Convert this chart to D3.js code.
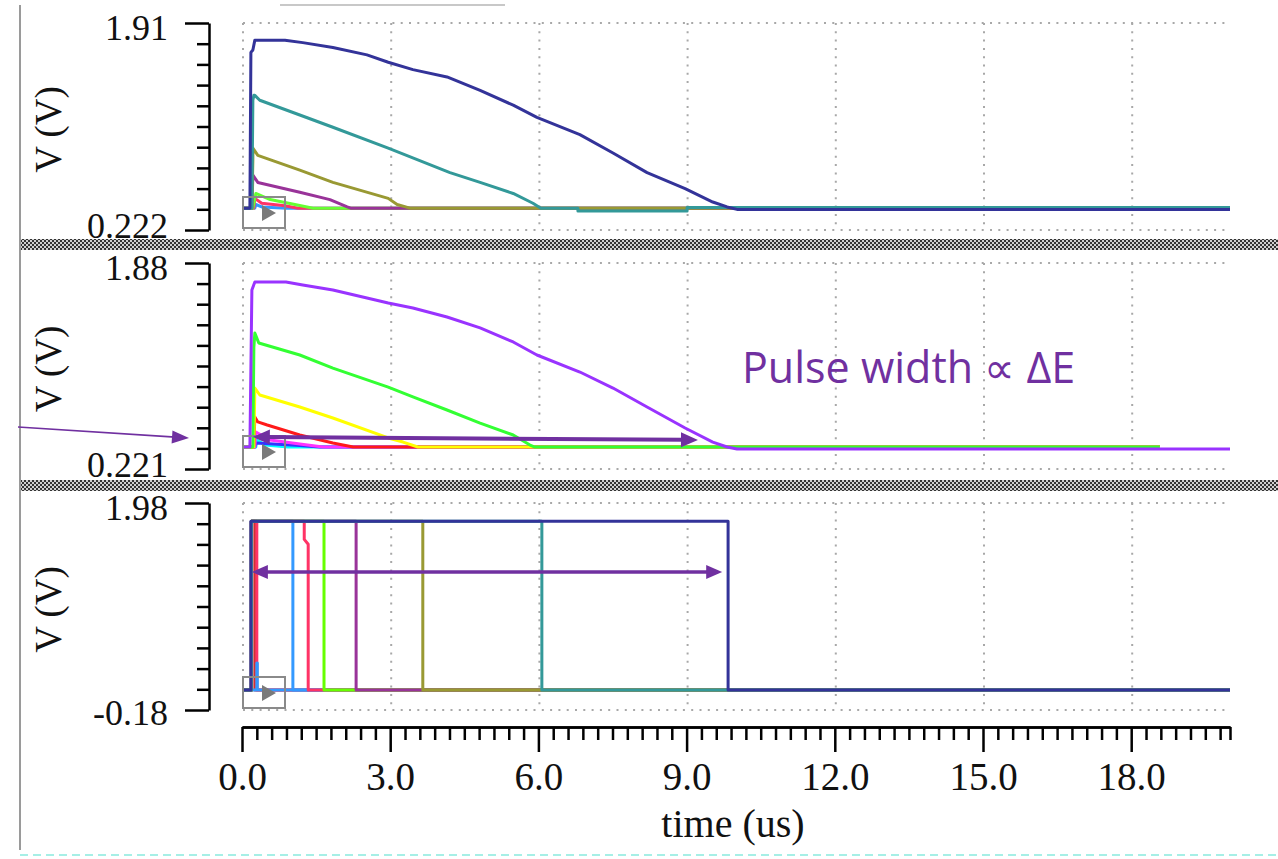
<!DOCTYPE html>
<html>
<head>
<meta charset="utf-8">
<script src="https://cdn.jsdelivr.net/npm/d3@7"></script>
<style>
body { margin: 0; background: #fff; }
svg { display: block; }
.axis path, .axis line { stroke: #000; stroke-width: 2.5; }
.axis text { font-family: "Liberation Serif", serif; font-size: 36px; fill: #111; }
.xaxis text { font-size: 39px; }
.ylab, .xlab { font-family: "Liberation Serif", serif; font-size: 37px; fill: #111; }
.xlab { font-size: 40px; }
</style>
</head>
<body>
<svg id="chart" width="1278" height="859"></svg>
<script>
// time (us), voltage (V) pairs

// top panel
const yDomainTop = [0.222, 1.91]
const yLabelsTop = ['0.222', '1.91']
const topBlue = [[0,0.40],[0.26,0.40],[0.28,0.43],[0.40,0.41],[0.90,0.40],[20,0.40]]
const topPink = [[0,0.40],[0.24,0.40],[0.26,0.48],[0.40,0.44],[0.87,0.42],[1.13,0.40],[20,0.40]]
const topLime = [[0,0.40],[0.22,0.40],[0.28,0.52],[0.57,0.47],[1.07,0.43],[1.44,0.40],[20,0.40]]
const topPurple = [[0,0.40],[0.20,0.40],[0.22,0.67],[0.32,0.61],[1.17,0.53],[1.78,0.47],[2.13,0.41],[2.20,0.40],[20,0.40]]
const topOlive = [[0,0.40],[0.20,0.40],[0.22,0.80],[0.22,0.89],[0.32,0.83],[1.17,0.71],[1.84,0.61],[2.96,0.48],[3.14,0.43],[3.40,0.40],[20,0.40]]
const topTeal = [[0,0.40],[0.20,0.40],[0.22,1.28],[0.24,1.32],[0.26,1.32],[0.36,1.28],[1.17,1.16],[1.84,1.06],[2.96,0.89],[4.21,0.69],[4.82,0.61],[5.49,0.52],[5.89,0.44],[5.97,0.42],[6.05,0.40],[6.80,0.40],[6.80,0.377],[9.01,0.377],[9.01,0.405],[20,0.405]]
const topNavy = [[0,0.40],[0.16,0.40],[0.18,1.67],[0.22,1.69],[0.26,1.77],[0.87,1.77],[1.23,1.75],[1.84,1.71],[2.53,1.65],[2.96,1.59],[3.46,1.53],[4.15,1.47],[4.82,1.36],[5.49,1.24],[5.97,1.14],[6.84,1.00],[7.51,0.85],[8.20,0.69],[8.97,0.56],[9.53,0.45],[9.82,0.41],[10.02,0.39],[20,0.39]]

// middle panel
const yDomainMid = [0.221, 1.88]
const yLabelsMid = ['0.221', '1.88']
const midCyan = [[0,0.398],[0.28,0.398],[0.30,0.455],[0.47,0.414],[0.93,0.398],[18.58,0.398]]
const midBlue = [[0,0.398],[0.26,0.398],[0.28,0.43],[1.17,0.41],[1.58,0.398],[18.58,0.398]]
const midMagenta = [[0,0.398],[0.26,0.398],[0.28,0.519],[0.57,0.455],[1.17,0.422],[1.64,0.398],[18.58,0.398]]
const midRed = [[0,0.398],[0.24,0.398],[0.26,0.640],[0.32,0.600],[0.51,0.575],[1.17,0.495],[1.84,0.430],[2.25,0.398],[18.58,0.398]]
const midYellow = [[0,0.398],[0.24,0.398],[0.26,0.873],[0.36,0.817],[1.17,0.720],[1.84,0.632],[2.96,0.471],[3.26,0.438],[3.56,0.398],[18.58,0.398]]
const midGreen = [[0,0.398],[0.22,0.398],[0.24,1.20],[0.26,1.316],[0.34,1.236],[1.17,1.139],[1.84,1.034],[2.96,0.881],[3.46,0.801],[4.15,0.696],[4.82,0.591],[5.49,0.495],[5.83,0.414],[5.93,0.398],[18.58,0.398]]
const midViolet = [[0,0.398],[0.16,0.398],[0.20,1.663],[0.26,1.727],[0.89,1.727],[1.23,1.703],[1.84,1.663],[2.53,1.598],[2.96,1.558],[3.46,1.518],[4.15,1.445],[4.82,1.357],[5.49,1.244],[5.97,1.139],[6.84,1.002],[7.51,0.873],[8.20,0.720],[8.97,0.551],[9.53,0.438],[9.82,0.398],[10.02,0.382],[20,0.382]]

// bottom panel (comparator output pulses)
const yDomainBot = [-0.18, 1.98]
const yLabelsBot = ['-0.18', '1.98']
const botRed = [[0,0.03],[0.19,0.03],[0.19,1.79],[0.26,1.79],[0.26,0.03],[20,0.03]]
const botPink2 = [[0,0.03],[0.19,0.03],[0.19,1.79],[0.30,1.79],[0.30,0.03],[20,0.03]]
const botLtBlue = [[0,0.03],[0.30,0.03],[0.30,0.31],[0.31,0.31],[0.31,0.03],[20,0.03]]
const botBlue = [[0,0.03],[0.19,0.03],[0.19,1.79],[1.03,1.79],[1.03,0.03],[20,0.03]]
const botPink = [[0,0.03],[0.19,0.03],[0.19,1.79],[1.26,1.79],[1.26,1.60],[1.34,1.55],[1.34,0.03],[20,0.03]]
const botLime = [[0,0.03],[0.19,0.03],[0.19,1.79],[1.66,1.79],[1.66,0.03],[20,0.03]]
const botPurple = [[0,0.03],[0.19,0.03],[0.19,1.79],[2.31,1.79],[2.31,0.03],[20,0.03]]
const botOlive = [[0,0.03],[0.19,0.03],[0.19,1.79],[3.66,1.79],[3.66,0.03],[20,0.03]]
const botTeal = [[0,0.03],[0.19,0.03],[0.19,1.79],[6.07,1.79],[6.07,0.03],[20,0.03]]
const botNavy = [[0,0.03],[0.18,0.03],[0.18,1.79],[9.84,1.79],[9.84,0.03],[20,0.03]]

// x axis
const xDomain = [0, 20]
const xMajor = [0, 3, 6, 9, 12, 15, 18]

// annotation arrows: [t1, v1, t2, v2] in the panel's units
const arrowMid = [0.22, 0.479, 9.23, 0.455]
const arrowBot = [0.20, 1.26, 9.72, 1.26]
const annotation = 'Pulse width \u221d \u0394E'

const purple = '#7030a0'

const svg = d3.select('#chart')

const x = d3.scaleLinear().domain(xDomain).range([242, 1230])

const panels = [
	{ top: 23, bottom: 230, domain: yDomainTop, labels: yLabelsTop, loDy: '0.2em',
	  series: [[topBlue,'#3399ff'],[topPink,'#ff3366'],[topLime,'#66ff33'],[topPurple,'#993399'],[topOlive,'#999933'],[topTeal,'#339999'],[topNavy,'#333399']] },
	{ top: 263, bottom: 469, domain: yDomainMid, labels: yLabelsMid, loDy: '0.2em',
	  series: [[midCyan,'#00ffff'],[midBlue,'#3333ff'],[midMagenta,'#ff33ff'],[midRed,'#ff1a1a'],[midYellow,'#ffff00'],[midGreen,'#33ff33'],[midViolet,'#9933ff']] },
	{ top: 503, bottom: 710, domain: yDomainBot, labels: yLabelsBot, loDy: '0.4em',
	  series: [[botRed,'#cc3333'],[botPink2,'#ff3366'],[botLtBlue,'#3399ff'],[botBlue,'#3399ff'],[botPink,'#ff3366'],[botLime,'#66ff00'],[botPurple,'#993399'],[botOlive,'#999933'],[botTeal,'#339999'],[botNavy,'#333399']] }
]

// checker pattern for the pane splitters
const defs = svg.append('defs')
const pat = defs.append('pattern')
.attr('id', 'checker')
.attr('width', 4)
.attr('height', 4)
.attr('patternUnits', 'userSpaceOnUse')
pat.append('rect').attr('width', 4).attr('height', 4).attr('fill', '#cfcfcf')
pat.append('rect').attr('width', 2).attr('height', 2).attr('fill', '#333')
pat.append('rect').attr('x', 2).attr('y', 2).attr('width', 2).attr('height', 2).attr('fill', '#333')

panels.forEach(p => {

	const y = d3.scaleLinear().domain(p.domain).range([p.bottom, p.top])
	p.y = y

	const g = svg.append('g')

	// dotted frame and grid
	const grid = g.append('g')
	.attr('stroke', '#a8a8a8')
	.attr('stroke-width', 2)
	.attr('stroke-dasharray', '2 6.3')
	.attr('fill', 'none')

	grid.selectAll('line.v')
	.data(xMajor)
	.enter()
	.append('line')
	.attr('x1', d => x(d) + 1)
	.attr('x2', d => x(d) + 1)
	.attr('y1', p.top)
	.attr('y2', p.bottom)

	grid.selectAll('line.h')
	.data([p.top, p.bottom])
	.enter()
	.append('line')
	.attr('x1', x(0) + 1)
	.attr('x2', x(19.9))
	.attr('y1', d => d)
	.attr('y2', d => d)

	// waveforms
	const line = d3.line()
	.x(d => x(d[0]))
	.y(d => y(d[1]))

	g.append('g')
	.selectAll('path')
	.data(p.series)
	.enter()
	.append('path')
	.attr('d', d => line(d[0]))
	.attr('fill', 'none')
	.attr('stroke', d => d[1])
	.attr('stroke-width', 3)
	.attr('stroke-linejoin', 'round')

	// little play box in the corner
	g.append('rect')
	.attr('x', x(0) + 1)
	.attr('y', p.bottom - 33)
	.attr('width', 42)
	.attr('height', 31)
	.attr('fill', 'none')
	.attr('stroke', '#8a8a8a')
	.attr('stroke-width', 2)

	g.append('path')
	.attr('d', `M${x(0) + 20},${p.bottom - 25}L${x(0) + 34},${p.bottom - 17}L${x(0) + 20},${p.bottom - 9}Z`)
	.attr('fill', '#7a7a7a')

	// y axis
	const [lo, hi] = p.domain
	const minor = d3.range(1, 10).map(i => lo + (hi - lo) * i / 10)

	g.append('g')
	.attr('class', 'axis')
	.attr('transform', 'translate(209,0)')
	.call(d3.axisLeft(y).tickValues(minor).tickSize(12).tickSizeOuter(0).tickFormat(''))

	const major = g.append('g')
	.attr('class', 'axis')
	.attr('transform', 'translate(209,0)')
	.call(d3.axisLeft(y).tickValues([lo, hi]).tickSize(24).tickSizeOuter(0).tickPadding(17).tickFormat((d, i) => p.labels[i]))

	major.selectAll('text').attr('dy', (d, i) => i === 0 ? p.loDy : '0.45em')
	major.select('.domain').remove()

	g.append('text')
	.attr('class', 'ylab')
	.attr('text-anchor', 'middle')
	.attr('transform', `translate(61,${(p.top + p.bottom) / 2 + 3}) rotate(-90)`)
	.text('V (V)')
})

// x axis
const xMinor = d3.range(67)
.map(i => +(i * 0.3).toFixed(1))
.filter(v => v <= 20 && Math.abs(v / 3 - Math.round(v / 3)) > 1e-6)
xMinor.push(20)

svg.append('g')
.attr('class', 'axis')
.attr('transform', 'translate(0,727)')
.call(d3.axisBottom(x).tickValues(xMinor).tickSize(13).tickSizeOuter(0).tickFormat(''))

svg.append('g')
.attr('class', 'axis xaxis')
.attr('transform', 'translate(0,727)')
.call(d3.axisBottom(x).tickValues(xMajor).tickSize(25).tickSizeOuter(0).tickPadding(10).tickFormat(d3.format('.1f')))

svg.append('text')
.attr('class', 'xlab')
.attr('x', 733)
.attr('y', 837)
.attr('text-anchor', 'middle')
.text('time (us)')

// pane splitters
svg.selectAll('rect.split')
.data([239, 480])
.enter()
.append('rect')
.attr('x', 20)
.attr('y', d => d)
.attr('width', 1258)
.attr('height', 11)
.attr('fill', 'url(#checker)')

// page furniture
svg.append('line')
.attr('x1', 20).attr('x2', 20).attr('y1', 5).attr('y2', 850)
.attr('stroke', '#9a9a9a').attr('stroke-width', 2)

svg.append('line')
.attr('x1', 280).attr('x2', 505).attr('y1', 5).attr('y2', 5)
.attr('stroke', '#c8c8c8').attr('stroke-width', 2)

svg.append('line')
.attr('x1', 20).attr('x2', 1278).attr('y1', 855).attr('y2', 855)
.attr('stroke', '#a6efe6').attr('stroke-width', 2).attr('stroke-dasharray', '8 5')

// arrows
function arrow(x1, y1, x2, y2, w, hl, hw, both) {
	const a = Math.atan2(y2 - y1, x2 - x1)
	const c = Math.cos(a), s = Math.sin(a)
	const head = (px, py, dir) => {
		const bx = px - dir * hl * c, by = py - dir * hl * s
		return `M${px},${py}L${bx - hw / 2 * s},${by + hw / 2 * c}L${bx + hw / 2 * s},${by - hw / 2 * c}Z`
	}
	const sx = both ? x1 + hl * 0.8 * c : x1, sy = both ? y1 + hl * 0.8 * s : y1
	svg.append('line')
	.attr('x1', sx).attr('y1', sy)
	.attr('x2', x2 - hl * 0.8 * c).attr('y2', y2 - hl * 0.8 * s)
	.attr('stroke', purple).attr('stroke-width', w)
	svg.append('path').attr('d', head(x2, y2, 1)).attr('fill', purple)
	if (both) svg.append('path').attr('d', head(x1, y1, -1)).attr('fill', purple)
}

const yMid = panels[1].y
const yBot = panels[2].y

arrow(18, 427, 189, 438, 1.6, 17, 13, false)
arrow(x(arrowMid[0]), yMid(arrowMid[1]), x(arrowMid[2]), yMid(arrowMid[3]), 4, 17, 15, true)
arrow(x(arrowBot[0]), yBot(arrowBot[1]), x(arrowBot[2]), yBot(arrowBot[3]), 3.5, 16, 14, true)

svg.append('text')
.attr('x', 742)
.attr('y', 383)
.attr('font-family', '"Open Sans", sans-serif')
.attr('font-size', 43)
.attr('fill', purple)
.text(annotation)
</script>
</body>
</html>
